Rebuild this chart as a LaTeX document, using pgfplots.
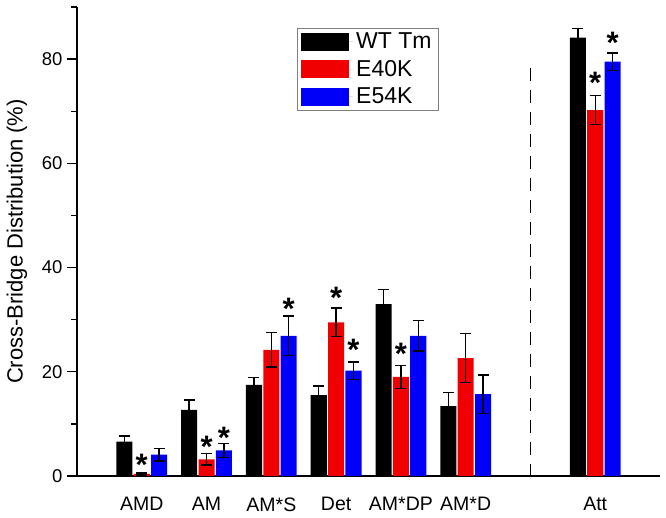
\documentclass[border=0pt]{standalone}
\usepackage{fontspec}
\setmainfont{Liberation Sans}
\usepackage{pgfplots}
\pgfplotsset{compat=1.18}
\definecolor{barred}{RGB}{240,0,0}
\definecolor{barblue}{RGB}{0,0,250}
\begin{document}
\begin{tikzpicture}
\begin{axis}[
  scale only axis,
  width=583pt, height=469pt,
  ybar,
  bar width=0.248,
  xmin=-1, xmax=8,
  ymin=0, ymax=90,
  clip=false,
  axis x line*=bottom,
  axis y line*=left,
  axis line style={line width=1.4pt},
  xtick={0,1,2,3,4,5,7},
  xticklabels={AMD,AM,AM*S,Det,AM*DP,AM*D,Att},
  x tick style={draw=none},
  xticklabel style={font=\fontsize{19.5}{21}\selectfont, yshift=-8pt},
  ytick={0,20,40,60,80},
  minor ytick={10,30,50,70,90},
  tick align=outside,
  major tick length=10pt,
  minor tick length=6pt,
  y tick style={line width=1.4pt, black},
  yticklabel style={font=\fontsize{18.5}{20}\selectfont, xshift=-1pt},
  /pgf/number format/assume math mode=true,
  ylabel={Cross-Bridge Distribution (\%)},
  ylabel style={font=\fontsize{22}{24}\selectfont, at={(axis description cs:-0.103,0.5)}, anchor=center},
  legend style={at={(0.377,0.956)}, anchor=north west, draw=gray, line width=0.8pt,
    font=\fontsize{23}{24}\selectfont, inner xsep=4pt, inner ysep=4pt, row sep=8pt,
    nodes={inner xsep=3pt, inner ysep=1pt}},
  legend cell align=left,
  legend image code/.code={\path[#1, draw=none] (0pt,-9pt) rectangle (48pt,9pt);\path (0pt,0pt) -- (52pt,0pt);},
  error bars/y dir=both,
  error bars/y explicit,
  error bars/error bar style={line width=1.4pt, black},
  error bars/error mark options={rotate=90, mark size=5.5pt, line width=1.4pt, black},
]
\addplot[fill=black, draw=none, bar shift=-0.268] coordinates {
  (0,6.6) +- (0,1.1)
  (1,12.7) +- (0,1.9)
  (2,17.5) +- (0,1.4)
  (3,15.5) +- (0,1.8)
  (4,33.0) +- (0,2.8)
  (5,13.4) +- (0,2.6)
  (7,84.1) +- (0,1.8)
};
\addplot[fill=barred, draw=none, bar shift=0] coordinates {
  (0,0.4) +- (0,0.2)
  (1,3.2) +- (0,1.1)
  (2,24.2) +- (0,3.3)
  (3,29.5) +- (0,2.7)
  (4,19.0) +- (0,2.2)
  (5,22.6) +- (0,4.7)
  (7,70.2) +- (0,2.8)
};
\addplot[fill=barblue, draw=none, bar shift=0.268] coordinates {
  (0,4.1) +- (0,1.2)
  (1,4.9) +- (0,1.3)
  (2,26.9) +- (0,3.8)
  (3,20.2) +- (0,1.7)
  (4,26.9) +- (0,2.9)
  (5,15.7) +- (0,3.7)
  (7,79.5) +- (0,1.7)
};
\legend{WT Tm, E40K, E54K}
\addplot[sharp plot, forget plot, black, line width=1.4pt, dash pattern=on 13pt off 9pt, mark=none] coordinates {(6,78.3) (6,0)};
\tikzset{ast/.style={anchor=north, inner sep=0pt, font=\fontsize{31}{31}\selectfont\bfseries}}
\node[ast] at (axis cs:0,4.22) {*};
\node[ast] at (axis cs:1,7.67) {*};
\node[ast] at (axis cs:1.268,9.46) {*};
\node[ast] at (axis cs:2.268,34.15) {*};
\node[ast] at (axis cs:3,36.32) {*};
\node[ast] at (axis cs:3.268,26.28) {*};
\node[ast] at (axis cs:4,25.52) {*};
\node[ast] at (axis cs:7,77.56) {*};
\node[ast] at (axis cs:7.268,85.18) {*};
\path (rel axis cs:0,0) -- ++(-77pt,-41pt);
\path (rel axis cs:1,1) -- ++(6pt,7pt);
\end{axis}
\end{tikzpicture}
\end{document}
